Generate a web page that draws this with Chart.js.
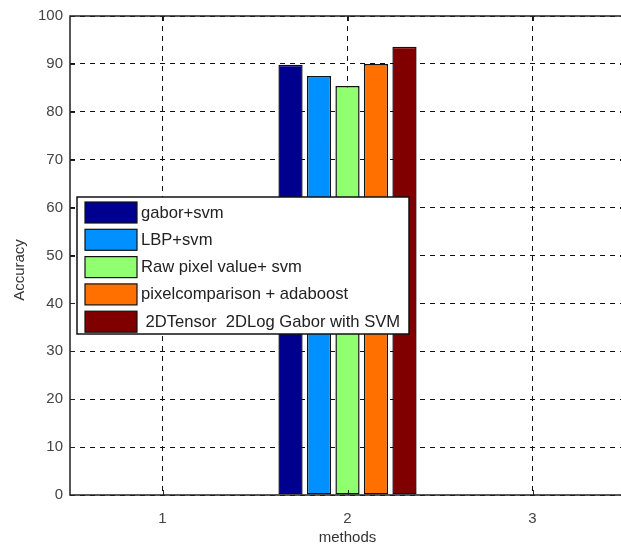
<!DOCTYPE html>
<html>
<head>
<meta charset="utf-8">
<script src="https://cdn.jsdelivr.net/npm/chart.js@4/dist/chart.umd.min.js"></script>
<style>
  html, body { margin: 0; padding: 0; background: #fff; overflow: hidden; }
  #wrap { width: 630px; height: 547px; }
</style>
</head>
<body>
<div id="wrap"><canvas id="accChart" width="630" height="547"></canvas></div>
<script>
// tick labels on the x axis (methods)
var methods = ['1', '2', '3'];
// legend names
var seriesNames = ['gabor+svm', 'LBP+svm', 'Raw pixel value+ svm', 'pixelcomparison + adaboost', ' 2DTensor  2DLog Gabor with SVM'];
// accuracy of each method, only category 2 holds values
var gaborSvm = [null, 89.8, null];
var lbpSvm = [null, 87.5, null];
var rawSvm = [null, 85.4, null];
var pixAda = [null, 90.0, null];
var tensorGabor = [null, 93.6, null];
var barColors = ['#00008F', '#0090FF', '#90FF70', '#FF7000', '#800000'];

var FONT = 'Arial, "Liberation Sans", sans-serif';

var allSeries = [gaborSvm, lbpSvm, rawSvm, pixAda, tensorGabor];
var datasets = allSeries.map(function (vals, i) {
    return {
        label: seriesNames[i],
        data: vals,
        backgroundColor: barColors[i],
        borderColor: '#111',
        borderWidth: 1.5,
        borderSkipped: false,
        categoryPercentage: 0.77,
        barPercentage: 0.85
    };
});

// matlab style box, inward ticks, y label and legend drawn inside the axes
var matlabPlugin = {
    id: 'matlabBox',
    afterDatasetsDraw: function (chart) {
        var ctx = chart.ctx;
        var a = chart.chartArea;
        var xs = chart.scales.x, ys = chart.scales.y;
        ctx.save();
        ctx.strokeStyle = '#222';
        ctx.lineWidth = 1.5;
        ctx.strokeRect(a.left, a.top, a.right - a.left, a.bottom - a.top);
        ctx.lineWidth = 1;
        ctx.beginPath();
        ys.ticks.forEach(function (t) {
            var y = Math.round(ys.getPixelForValue(t.value)) + 0.5;
            ctx.moveTo(a.left, y); ctx.lineTo(a.left + 5, y);
            ctx.moveTo(a.right, y); ctx.lineTo(a.right - 5, y);
        });
        methods.forEach(function (m, i) {
            var x = Math.round(xs.getPixelForValue(i)) + 0.5;
            ctx.moveTo(x, a.bottom); ctx.lineTo(x, a.bottom - 5);
            ctx.moveTo(x, a.top); ctx.lineTo(x, a.top + 5);
        });
        ctx.stroke();

        // y axis label
        ctx.save();
        ctx.translate(20, 270);
        ctx.rotate(-Math.PI / 2);
        ctx.font = '15px ' + FONT;
        ctx.fillStyle = '#333';
        ctx.textAlign = 'center';
        ctx.textBaseline = 'middle';
        ctx.fillText('Accuracy', 0, 0);
        ctx.restore();

        // legend
        var lx = 77, ly = 197, lw = 332, lh = 137;
        ctx.fillStyle = '#fff';
        ctx.fillRect(lx, ly, lw, lh);
        ctx.strokeStyle = '#111';
        ctx.lineWidth = 1.5;
        ctx.strokeRect(lx, ly, lw, lh);
        ctx.font = '16.6px ' + FONT;
        ctx.textBaseline = 'middle';
        ctx.textAlign = 'left';
        chart.data.datasets.forEach(function (ds, i) {
            var py = 202 + i * 27.3;
            ctx.fillStyle = ds.backgroundColor;
            ctx.fillRect(85, py, 52, 21);
            ctx.strokeStyle = '#111';
            ctx.lineWidth = 1.2;
            ctx.strokeRect(85, py, 52, 21);
            ctx.fillStyle = '#222';
            ctx.fillText(ds.label, 141, py + 11);
        });
        ctx.restore();
    }
};

new Chart('accChart', {
    type: 'bar',
    data: { labels: methods, datasets: datasets },
    options: {
        responsive: false,
        animation: false,
        layout: { padding: { top: 16, right: 5, left: 0, bottom: 0 } },
        plugins: {
            legend: { display: false },
            tooltip: { enabled: false }
        },
        scales: {
            x: {
                offset: true,
                grid: { offset: false, color: '#111', lineWidth: 1, drawTicks: false },
                border: { display: false, dash: [5, 5] },
                ticks: { color: '#444', font: { family: FONT, size: 15 }, padding: 15 },
                title: { display: true, text: 'methods', color: '#333', font: { family: FONT, size: 15 }, padding: { top: 4, bottom: 0 } },
                afterFit: function (s) { s.height = 52; }
            },
            y: {
                min: 0,
                max: 100,
                grid: { color: '#111', lineWidth: 1, drawTicks: false },
                border: { display: false, dash: [5, 5] },
                ticks: { stepSize: 10, color: '#444', font: { family: FONT, size: 15 }, padding: 7 },
                title: { display: false },
                afterFit: function (s) { s.width = 70; }
            }
        }
    },
    plugins: [matlabPlugin]
});
</script>
</body>
</html>
